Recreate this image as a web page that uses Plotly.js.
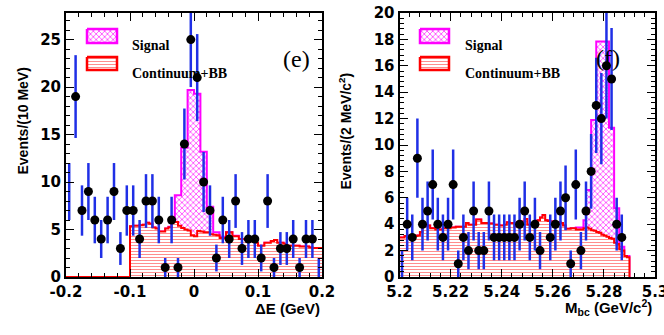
<!DOCTYPE html>
<html>
<head>
<meta charset="utf-8">
<script src="https://cdn.plot.ly/plotly-3.0.1.min.js"></script>
<style>
  html, body { margin: 0; padding: 0; background: #ffffff; }
  #chart { width: 664px; height: 335px; }
</style>
</head>
<body>
<div id="chart"></div>
<script>
// ---- panel (e): Delta E, 10 MeV bins for data, 5 MeV bins for the fit histograms
const dePoints = [9, 19, 7, 9, 6, 4, 6, 9, 3, 7, 7, 4, 8, 8, 6, 1, 6, 1, 14, 25,
  21, 10, 7, 2, 6, 4, 8, 3, 4, 4, 2, 8, 1, 3, 3, 4, 1, 4, 4, 1];
const deErrors = [3, 4.36, 2.65, 3, 2.45, 2, 2.45, 3, 1.73, 2.65, 2.65, 2, 2.83, 2.83, 2.45, 1, 2.45, 1, 3.74, 5,
  4.58, 3.16, 2.65, 1.41, 2.45, 2, 2.83, 1.73, 2, 2, 1.41, 2.83, 1, 1.73, 1.73, 2, 1, 2, 2, 1];
const deBkg = [5.35, 5.4, 5.4, 5.45, 5.5, 5.7, 5.6, 5.2, 5.1, 4.8,
  4.8, 5.1, 5.25, 5.85, 5.8, 5.4, 5.15, 5.0, 4.9, 4.4,
  4.3, 4.85, 4.8, 4.7, 4.7, 4.5, 4.45, 4.4, 4.1, 4.1,
  4.7, 4.7, 4.3, 4.3, 4.0, 4.0, 3.9, 3.9, 3.9, 3.6,
  3.3, 3.3, 3.6, 3.6, 3.8, 3.9, 3.6, 3.6, 3.5, 3.3,
  3.3, 3.3, 3.3, 3.2, 3.2, 3.2, 3.1, 3.05, 3.05, 3.05];
const deTotal = [5.35, 5.4, 5.4, 5.45, 5.5, 5.7, 5.6, 5.2, 5.1, 4.8,
  4.8, 5.1, 5.3, 5.95, 8.6, 8.6, 13.6, 13.6, 19.7, 19.7,
  19.3, 19.3, 13.2, 13.2, 7.4, 7.4, 4.7, 4.7, 4.25, 4.25,
  4.75, 4.75, 4.35, 4.35, 4.0, 4.0, 3.9, 3.9, 3.9, 3.6,
  3.3, 3.3, 3.6, 3.6, 3.8, 3.9, 3.6, 3.6, 3.5, 3.3,
  3.3, 3.3, 3.3, 3.2, 3.2, 3.2, 3.1, 3.05, 3.05, 3.05];
const deTickVals = [-0.2, -0.1, 0, 0.1, 0.2];
const deTickText = ["-0.2", "-0.1", "0", "0.1", "0.2"];

// ---- panel (f): Mbc, 2 MeV bins for data, 1 MeV bins for the fit histograms
const mbcPoints = [1, 4, 3, 9, 4, 5, 7, 4, 3, 4, 7, 1, 3, 2, 5, 2, 2, 5, 3, 3,
  3, 3, 3, 4, 5, 3, 4, 2, null, 3, 4, 5, 6, 1, 7, 2, 5, 8, 13, 12,
  16, 15, 4, 3, null, null, null, null, null, null];
const mbcErrors = [1, 2, 1.73, 3, 2, 2.24, 2.65, 2, 1.73, 2, 2.65, 1, 1.73, 1.41, 2.24, 1.41, 1.41, 2.24, 1.73, 1.73,
  1.73, 1.73, 1.73, 2, 2.24, 1.73, 2, 1.41, null, 1.73, 2, 2.24, 2.45, 1, 2.65, 1.41, 2.24, 2.83, 3.61, 3.46,
  4, 3.87, 2, 1.73, null, null, null, null, null, null];
const mbcBkg = [3.0, 3.0, 3.1, 3.1, 3.15, 3.15, 3.1, 3.15, 3.4, 3.85,
  3.85, 3.9, 3.7, 3.7, 3.6, 3.6, 3.6, 3.7, 3.7, 3.7,
  3.75, 3.75, 3.8, 3.8, 3.8, 3.8, 4.1, 3.95, 3.95, 3.95,
  4.35, 4.35, 4.1, 4.1, 4.1, 4.05, 4.05, 3.95, 3.95, 3.9,
  3.9, 3.95, 4.15, 4.1, 4.1, 3.85, 4.15, 4.15, 4.2, 4.4,
  3.95, 3.95, 3.95, 3.95, 4.3, 4.5, 4.7, 4.3, 4.25, 4.2,
  4.15, 4.15, 4.15, 4.1, 3.9, 3.65, 3.65, 3.7, 3.7, 3.6,
  3.6, 3.6, 3.7, 3.75, 3.65, 3.55, 3.5, 3.4, 3.35, 3.2,
  3.15, 3.05, 2.95, 2.9, 2.6, 2.5, 2.1, 2.0, 1.6, 1.5];
const mbcTotal = [3.0, 3.0, 3.1, 3.1, 3.15, 3.15, 3.1, 3.15, 3.4, 3.85,
  3.85, 3.9, 3.7, 3.7, 3.6, 3.6, 3.6, 3.7, 3.7, 3.7,
  3.75, 3.75, 3.8, 3.8, 3.8, 3.8, 4.1, 3.95, 3.95, 3.95,
  4.35, 4.35, 4.1, 4.1, 4.1, 4.05, 4.05, 3.95, 3.95, 3.9,
  3.9, 3.95, 4.15, 4.1, 4.1, 3.85, 4.15, 4.15, 4.2, 4.4,
  3.95, 3.95, 3.95, 3.95, 4.3, 4.5, 4.7, 4.3, 4.25, 4.2,
  4.15, 4.15, 4.15, 4.1, 3.9, 3.65, 3.65, 3.7, 3.7, 3.75,
  3.75, 3.75, 4.3, 6.6, 6.6, 11.9, 11.9, 17.85, 17.85, 17.85,
  17.85, 17.85, 11.3, 11.3, 5.2, 5.2, 2.3, 2.3, 1.6, 1.6];
const mbcTickVals = [5.2, 5.22, 5.24, 5.26, 5.28, 5.3];
const mbcTickText = ["5.2", "5.22", "5.24", "5.26", "5.28", "5.3"];

const legendNames = ["Signal", "Continuum+BB"];

// ---- helpers
const W = 664, H = 335;
const px = (x) => x / W;
const py = (y) => 1 - y / H;

function centers(lo, width, n) {
  const out = [];
  for (let i = 0; i < n; i++) out.push(+(lo + (i + 0.5) * width).toFixed(4));
  return out;
}
function edges(lo, width, n) {
  const out = [];
  for (let i = 0; i <= n; i++) out.push(+(lo + i * width).toFixed(4));
  return out;
}

const BLUE = "#1f2fe6";
const SIG = { shape: "x", fgcolor: "#ff33ff", bgcolor: "#ffffff", size: 4, solidity: 0.35 };
const BKG = { shape: "-", fgcolor: "#ff8080", bgcolor: "#ffffff", size: 3, solidity: 0.3 };

function stepTrace(x, y, xa, ya, color, pattern) {
  return {
    type: "scatter", mode: "lines", x: x, y: y, xaxis: xa, yaxis: ya,
    line: { shape: "hv", color: color, width: 2 },
    fill: "tozeroy", fillcolor: "#ffffff", fillpattern: pattern,
    hoverinfo: "skip", showlegend: false
  };
}

function pointsTrace(x, y, err, hidden, xa, ya) {
  return {
    type: "scatter", mode: "markers", x: x, y: y, xaxis: xa, yaxis: ya,
    marker: {
      color: "#000000", size: 9,
      opacity: x.map((v) => (hidden.includes(v) ? 0 : 1))
    },
    error_y: { type: "data", array: err, visible: true, color: BLUE, thickness: 2.5, width: 0 },
    showlegend: false
  };
}

// legend boxes live on a hidden full-page axis pair (x3/y3, 0..1 in paper units)
function swatch(x0, y0, x1, y1, color, pattern) {
  return {
    type: "scatter", mode: "lines", xaxis: "x3", yaxis: "y3",
    x: [px(x0), px(x1), px(x1), px(x0), px(x0)],
    y: [py(y0), py(y0), py(y1), py(y1), py(y0)],
    fill: "toself", fillcolor: "#ffffff", fillpattern: pattern,
    line: { color: color, width: 2.5 }, hoverinfo: "skip", showlegend: false
  };
}

// ---- traces
const deEdges = edges(-0.1, 0.005, deBkg.length);
const deX = [-0.2].concat(deEdges);
const deBkgY = [0].concat(deBkg, [deBkg[deBkg.length - 1]]);
const deTotY = [0].concat(deTotal, [deTotal[deTotal.length - 1]]);

const mbcX = edges(5.2, 0.001, mbcBkg.length);
const mbcBkgY = mbcBkg.concat([0]);
const mbcTotY = mbcTotal.concat([0]);

const deCenters = centers(-0.2, 0.01, dePoints.length);
const mbcCenters = centers(5.2, 0.002, mbcPoints.length);

const traces = [
  stepTrace(deX, deTotY, "x", "y", "#ff00ff", SIG),
  stepTrace(deX, deBkgY, "x", "y", "#ff0000", BKG),
  pointsTrace(deCenters, dePoints, deErrors, [-0.195, 0.195], "x", "y"),
  stepTrace(mbcX, mbcTotY, "x2", "y2", "#ff00ff", SIG),
  stepTrace(mbcX, mbcBkgY, "x2", "y2", "#ff0000", BKG),
  pointsTrace(mbcCenters, mbcPoints, mbcErrors, [5.201], "x2", "y2"),
  swatch(87, 29, 117, 43, "#ff00ff", SIG),
  swatch(87, 57, 117, 70, "#ff0000", BKG),
  swatch(420, 29, 449, 43, "#ff00ff", SIG),
  swatch(420, 57, 449, 70, "#ff0000", BKG)
];

// ---- layout
const tickFont = { family: "DejaVu Sans, Liberation Sans, sans-serif", size: 15, color: "#000000", weight: "bold" };
const titleFont = { family: "Liberation Sans, Arial, sans-serif", size: 14, color: "#000000", weight: "bold" };
const serifFont = { family: "Liberation Serif, Times New Roman, serif", size: 14, color: "#000000", weight: "bold" };

function frameAxis(extra) {
  return Object.assign({
    showline: true, linecolor: "#000000", linewidth: 2, mirror: "allticks",
    ticks: "inside", ticklen: 8, tickwidth: 1, tickcolor: "#000000",
    showgrid: false, zeroline: false, tickfont: tickFont, fixedrange: true,
    ticklabeloverflow: "allow"
  }, extra);
}

const yDom = [58 / H, 322 / H];

const layout = {
  width: W, height: H,
  margin: { l: 0, r: 0, t: 0, b: 0 },
  paper_bgcolor: "#ffffff", plot_bgcolor: "rgba(0,0,0,0)",
  showlegend: false,
  xaxis: frameAxis({
    domain: [px(66), px(322)], range: [-0.2, 0.2], anchor: "y",
    tickmode: "array", tickvals: deTickVals, ticktext: deTickText,
    minor: { tickmode: "linear", tick0: -0.2, dtick: 0.02, ticks: "inside", ticklen: 4, tickcolor: "#000000", showgrid: false }
  }),
  yaxis: frameAxis({
    domain: yDom, range: [0, 27.8], anchor: "x", dtick: 5,
    minor: { tickmode: "linear", tick0: 0, dtick: 1, ticks: "inside", ticklen: 4, tickcolor: "#000000", showgrid: false }
  }),
  xaxis2: frameAxis({
    domain: [px(399.5), px(655)], range: [5.2, 5.3], anchor: "y2",
    tickmode: "array", tickvals: mbcTickVals, ticktext: mbcTickText,
    minor: { tickmode: "linear", tick0: 5.2, dtick: 0.004, ticks: "inside", ticklen: 4, tickcolor: "#000000", showgrid: false }
  }),
  yaxis2: frameAxis({
    domain: yDom, range: [0, 20], anchor: "x2", dtick: 2,
    minor: { tickmode: "linear", tick0: 0, dtick: 0.4, ticks: "inside", ticklen: 4, tickcolor: "#000000", showgrid: false }
  }),
  xaxis3: { domain: [0, 1], range: [0, 1], visible: false, fixedrange: true, anchor: "y3" },
  yaxis3: { domain: [0, 1], range: [0, 1], visible: false, fixedrange: true, anchor: "x3" },
  annotations: [
    { text: "Events/(10 MeV)", x: px(12), y: py(66), textangle: -90, font: titleFont },
    { text: "Events/(2 MeV/c<sup>2</sup>)", x: px(345), y: py(71), textangle: -90, font: titleFont },
    { text: "\u0394E (GeV)", x: px(322), y: py(319), xanchor: "right", font: Object.assign({}, titleFont, { size: 15 }) },
    { text: "M<sub>bc</sub> (GeV/c<sup>2</sup>)", x: px(654), y: py(320), xanchor: "right", font: Object.assign({}, titleFont, { size: 15 }) },
    { text: "(e)", x: px(296), y: py(44), font: Object.assign({}, serifFont, { size: 24, weight: "normal" }) },
    { text: "(f)", x: px(622), y: py(43), font: Object.assign({}, serifFont, { size: 24, weight: "normal" }) },
    { text: legendNames[0], x: px(130), y: py(36), xanchor: "left", font: serifFont },
    { text: legendNames[1], x: px(130), y: py(64), xanchor: "left", font: serifFont },
    { text: legendNames[0], x: px(463), y: py(36), xanchor: "left", font: serifFont },
    { text: legendNames[1], x: px(463), y: py(64), xanchor: "left", font: serifFont }
  ].map((a) => Object.assign({ xref: "paper", yref: "paper", showarrow: false }, a))
};

Plotly.newPlot("chart", traces, layout, { displayModeBar: false, staticPlot: true });
</script>
</body>
</html>
